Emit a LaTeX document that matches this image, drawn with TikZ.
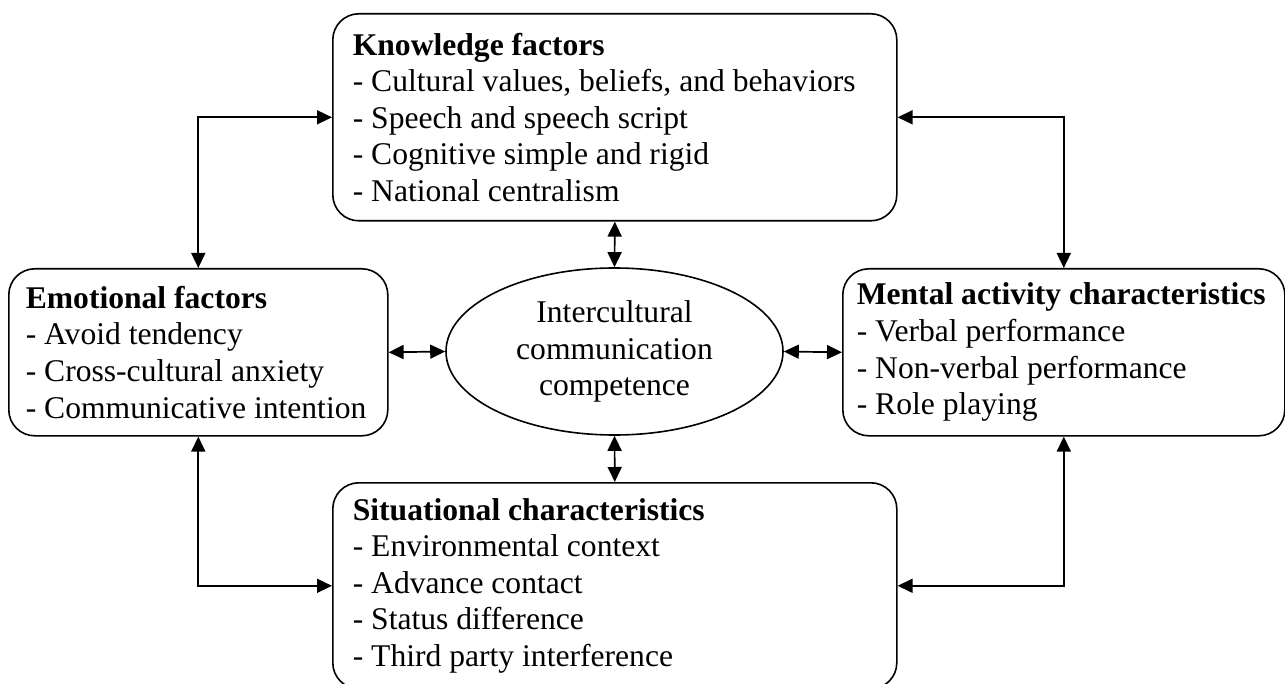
\documentclass[tikz,border=0pt]{standalone}
\usepackage{fontspec}
\setmainfont{Liberation Serif}
\usepackage{tikz}
\usetikzlibrary{arrows.meta,shapes.geometric}

\tikzset{
  factorbox/.style={draw, line width=0.8pt, rounded corners=13pt, anchor=north west,
    align=flush left, inner ysep=0pt, font=\fontsize{15.8}{18.3}\selectfont},
  corebox/.style={draw, ellipse, line width=0.8pt, inner sep=0pt, align=center,
    minimum width=168.5pt, minimum height=83.5pt, font=\fontsize{15.8}{18.3}\selectfont},
  linkarrow/.style={{Triangle[length=7.5pt,width=7pt]}-{Triangle[length=7.5pt,width=7pt]},
    line width=0.85pt}
}

\begin{document}
\begin{tikzpicture}[x=0.5pt,y=-0.5pt]
  \useasboundingbox (0,0) rectangle (1285,684);

  % the five blocks
  \node[factorbox, inner xsep=10pt, text width=262pt, minimum height=103.5pt] (know) at (332,13) {%
    \textbf{Knowledge factors}\\
    - Cultural values, beliefs, and behaviors\\
    - Speech and speech script\\
    - Cognitive simple and rigid\\
    - National centralism};
  \node[factorbox, inner xsep=8.5pt, text width=172.5pt, minimum height=83.5pt] (emo) at (8,268) {%
    \textbf{Emotional factors}\\
    - Avoid tendency\\
    - Cross-cultural anxiety\\
    - Communicative intention};
  \node[factorbox, inner xsep=7pt, text width=207pt, minimum height=83.5pt] (mental) at (842,268) {%
    \textbf{Mental activity characteristics}\\
    - Verbal performance\\
    - Non-verbal performance\\
    - Role playing};
  \node[factorbox, inner xsep=10pt, text width=262pt, minimum height=103pt] (situ) at (332,482) {%
    \textbf{Situational characteristics}\\
    - Environmental context\\
    - Advance contact\\
    - Status difference\\
    - Third party interference};
  \node[corebox] (core) at (614.5,351.5) {Intercultural\\communication\\competence};

  % links
  \draw[linkarrow] (emo.north) |- (know.west);
  \draw[linkarrow] (know.east) -| (mental.north);
  \draw[linkarrow] (emo.south) |- (situ.west);
  \draw[linkarrow] (situ.east) -| (mental.south);
  \draw[linkarrow] (know.south) -- (core.north);
  \draw[linkarrow] (core.south) -- (situ.north);
  \draw[linkarrow] (emo.east) -- (core.west);
  \draw[linkarrow] (core.east) -- (mental.west);
\end{tikzpicture}
\end{document}
